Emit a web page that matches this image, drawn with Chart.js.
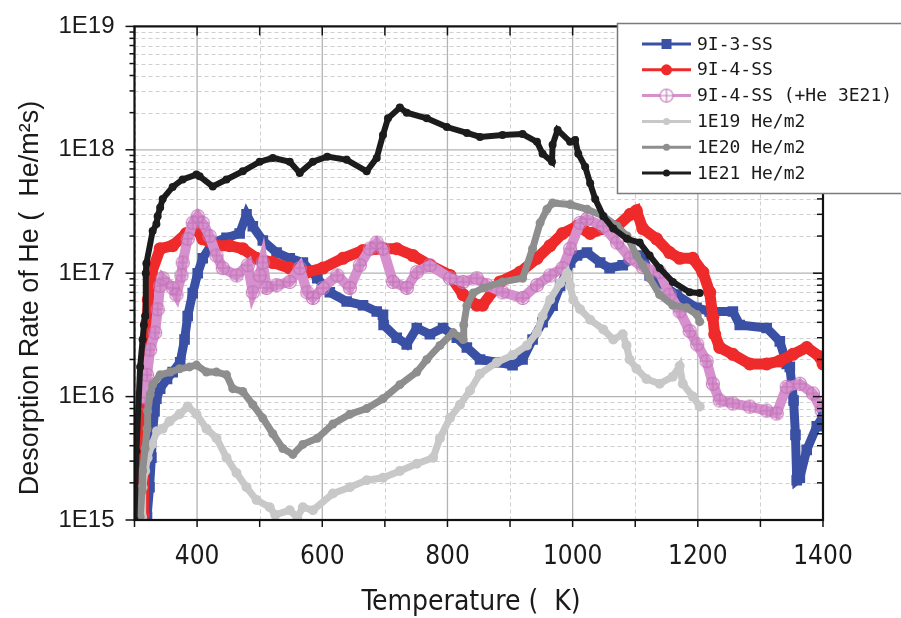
<!DOCTYPE html>
<html>
<head>
<meta charset="utf-8">
<script src="https://cdn.jsdelivr.net/npm/chart.js@4.4.1/dist/chart.umd.min.js"></script>
<style>
body { margin: 0; background: #fff; }
#c { display: block; }
</style>
</head>
<body>
<canvas id="c" width="901" height="618"></canvas>
<script>
// temperature (K) / desorption rate (He/m2s)

var blueT = [320,324,327,329,332,335,341,352,361,373,380,385,393,401,409,425,447,468,479,489,505,527,548,569,592,612,639,665,687,697,698,719,735,751,772,793,815,831,852,879,904,920,936,952,968,980,988,996,1007,1023,1044,1059,1080,1096,1112,1123,1166,1198,1219,1256,1267,1310,1331,1342,1347,1353,1356,1358,1363,1374,1390,1400];
var blueV = [1.06e15,1.84e15,3.2e15,5.25e15,7.6e15,9.6e15,1.16e16,1.39e16,1.58e16,1.9e16,2.9e16,4.5e16,6.9e16,1.0e17,1.32e17,1.77e17,1.94e17,2.1e17,3.0e17,2.4e17,1.84e17,1.47e17,1.32e17,1.22e17,9.1e16,7.0e16,5.9e16,5.5e16,4.9e16,4.6e16,3.8e16,3.0e16,2.65e16,3.6e16,3.2e16,3.6e16,3.0e16,2.5e16,2.0e16,1.9e16,1.8e16,2.0e16,2.9e16,4.0e16,5.45e16,7.9e16,9.6e16,1.22e17,1.39e17,1.47e17,1.22e17,1.1e17,1.16e17,1.32e17,1.39e17,9.6e16,6.7e16,5.25e16,4.9e16,4.9e16,3.8e16,3.6e16,2.8e16,1.84e16,1.74e16,9.3e15,4.9e15,2.1e15,2.2e15,3.7e15,5.75e15,6.9e15];

var redT = [314,317,320,322,327,341,361,383,399,409,431,452,473,495,521,548,576,601,633,665,697,719,745,772,804,825,847,856,884,916,943,964,984,1007,1028,1049,1071,1092,1102,1112,1134,1155,1171,1192,1208,1219,1224,1227,1235,1256,1283,1310,1331,1352,1374,1395,1400];
var redV = [1.1e15,1.2e16,4.0e16,6.1e16,1.0e17,1.58e17,1.67e17,2.1e17,2.3e17,1.9e17,1.67e17,1.67e17,1.58e17,1.32e17,1.22e17,1.1e17,1.02e17,1.1e17,1.32e17,1.53e17,1.58e17,1.58e17,1.39e17,1.16e17,9.6e16,6.7e16,5.5e16,5.5e16,8.5e16,1.02e17,1.32e17,1.67e17,2.1e17,2.4e17,2.1e17,2.3e17,2.4e17,3.0e17,3.2e17,2.3e17,1.9e17,1.47e17,1.32e17,1.32e17,1.02e17,7.0e16,4.4e16,3.2e16,2.5e16,2.2e16,1.84e16,1.84e16,1.94e16,2.2e16,2.5e16,2.1e16,1.84e16];

var pinkT = [317,320,325,333,337,341,345,361,367,375,377,385,393,401,409,420,431,441,463,481,489,500,505,511,527,548,564,576,585,601,624,644,660,676,687,697,713,735,751,772,804,825,847,863,888,920,943,964,984,996,1012,1023,1049,1071,1092,1112,1139,1155,1171,1187,1199,1214,1224,1235,1256,1283,1310,1326,1342,1363,1384,1398];
var pinkV = [8.8e15,1.5e16,2.4e16,3.3e16,5.1e16,7.9e16,9.1e16,7.6e16,6.7e16,9.6e16,1.22e17,1.9e17,2.56e17,2.9e17,2.56e17,2.0e17,1.39e17,1.1e17,9.6e16,1.16e17,7.0e16,9.6e16,1.22e17,7.6e16,8.0e16,8.5e16,1.1e17,7.0e16,6.3e16,7.6e16,9.6e16,7.6e16,1.16e17,1.58e17,1.77e17,1.58e17,8.5e16,7.6e16,1.02e17,1.16e17,9.1e16,8.5e16,9.1e16,8.0e16,7.0e16,6.3e16,8.0e16,9.6e16,1.1e17,1.58e17,2.56e17,2.75e17,2.4e17,1.77e17,1.32e17,1.12e17,1.02e17,6.7e16,4.9e16,3.4e16,2.65e16,1.94e16,1.27e16,9.3e15,8.8e15,8.3e15,7.7e15,7.3e15,1.2e16,1.27e16,1.06e16,7.7e15];

var e19T = [312,313,317,321,328,336,345,356,372,385,399,415,431,447,463,479,495,516,525,548,560,569,585,617,644,671,697,724,751,777,788,804,820,836,852,879,904,927,943,952,964,980,991,996,1001,1012,1028,1049,1065,1080,1086,1091,1102,1118,1139,1160,1171,1176,1192,1203];
var e19V = [1.06e15,1.84e15,2.5e15,3.2e15,4.1e15,5.25e15,5.5e15,6.3e15,7.2e15,8.3e15,7.2e15,5.5e15,4.6e15,3.2e15,2.4e15,1.84e15,1.45e15,1.27e15,1.1e15,1.2e15,1.05e15,1.27e15,1.2e15,1.64e15,1.84e15,2.1e15,2.2e15,2.5e15,2.86e15,3.2e15,4.6e15,6.7e15,8.6e15,1.12e16,1.53e16,1.9e16,2.17e16,2.6e16,3.3e16,4.5e16,6.1e16,8.3e16,1.0e17,7.9e16,6.1e16,5.1e16,4.2e16,3.5e16,2.9e16,3.2e16,2.6e16,2.0e16,1.68e16,1.39e16,1.27e16,1.45e16,1.77e16,1.27e16,1.0e16,8.3e15];

var e20T = [309,312,313,317,320,321,325,329,341,357,372,388,399,415,431,447,457,473,489,505,521,537,553,569,592,617,644,671,697,724,751,767,788,809,825,826,831,841,857,888,920,936,948,959,968,996,1023,1049,1071,1087,1102,1112,1123,1139,1160,1182,1199,1203];
var e20V = [1.06e15,1.74e15,2.5e15,3.8e15,5.5e15,7.6e15,1.04e16,1.25e16,1.5e16,1.58e16,1.68e16,1.74e16,1.8e16,1.58e16,1.58e16,1.5e16,1.16e16,1.1e16,8.6e15,6.7e15,5.0e15,3.8e15,3.4e15,4.1e15,4.6e15,6.0e15,7.2e15,8.0e15,9.6e15,1.25e16,1.58e16,2.0e16,2.6e16,3.3e16,2.9e16,3.8e16,5.45e16,6.9e16,7.6e16,8.5e16,9.1e16,1.58e17,2.56e17,3.3e17,3.7e17,3.6e17,3.3e17,2.9e17,2.4e17,2.0e17,1.39e17,1.16e17,9.1e16,6.7e16,5.5e16,5.25e16,4.6e16,4.05e16];

var e21T = [300,303,309,313,315,317,318,319,329,335,337,341,345,361,377,399,404,425,447,473,500,521,548,564,585,608,639,671,687,697,705,724,735,767,799,831,852,888,920,943,952,967,968,976,996,1004,1009,1020,1028,1036,1049,1065,1087,1107,1123,1139,1160,1187,1203];
var e21V = [1.0e15,3.6e15,1.74e16,2.9e16,3.8e16,4.5e16,1.0e17,1.2e17,2.2e17,2.5e17,2.9e17,3.4e17,4.0e17,5.0e17,5.75e17,6.3e17,6.1e17,5.05e17,5.75e17,6.7e17,8.0e17,8.6e17,8.0e17,6.5e17,8.0e17,8.8e17,8.3e17,6.7e17,8.6e17,1.32e18,1.8e18,2.2e18,2.0e18,1.8e18,1.53e18,1.37e18,1.27e18,1.32e18,1.34e18,1.16e18,9.3e17,8.0e17,1.1e18,1.45e18,1.16e18,1.2e18,9.3e17,7.3e17,5.35e17,4.0e17,2.9e17,2.3e17,1.9e17,1.77e17,1.39e17,1.1e17,8.5e16,7.0e16,6.9e16];

var yTicks = [1e15, 1e16, 1e17, 1e18, 1e19];
var xTicks = [400, 600, 800, 1000, 1200, 1400];
var xMinor = [300, 500, 700, 900, 1100, 1300];

function pts(t, v) {
  return t.map(function (x, i) { return {x: x, y: v[i]}; });
}

// crossed open circle like the origin marker
function crossCircle(r, color) {
  var c = document.createElement('canvas');
  var s = Math.ceil(r * 2 + 3);
  c.width = s; c.height = s;
  var g = c.getContext('2d');
  var m = s / 2;
  g.strokeStyle = color;
  g.lineWidth = 1.1;
  g.beginPath(); g.arc(m, m, r, 0, Math.PI * 2); g.stroke();
  g.beginPath();
  g.moveTo(m - r, m); g.lineTo(m + r, m);
  g.moveTo(m, m - r); g.lineTo(m, m + r);
  g.stroke();
  return c;
}
var pinkMark = crossCircle(6.5, '#c274b8');

function series(label, t, v, color, o) {
  return {
    label: label,
    data: pts(t, v),
    showLine: true,
    borderColor: o.line || color,
    borderWidth: o.w,
    backgroundColor: color,
    pointBackgroundColor: color,
    pointBorderColor: color,
    pointBorderWidth: 0,
    pointRadius: o.r,
    pointStyle: o.style || 'circle',
    tension: 0,
    order: o.order,
    clip: 0
  };
}

var minorY = [];
yTicks.slice(0, 4).forEach(function (d) {
  for (var k = 2; k <= 9; k++) minorY.push(d * k);
});

function ln(g, x1, y1, x2, y2) {
  g.beginPath(); g.moveTo(x1, y1); g.lineTo(x2, y2); g.stroke();
}

var frame = {
  id: 'frame',
  beforeDatasetsDraw: function (chart) {
    var a = chart.chartArea, xs = chart.scales.x, ys = chart.scales.y, g = chart.ctx;
    g.save();
    g.lineWidth = 1;
    g.strokeStyle = '#cfcfcf';
    g.setLineDash([4, 3]);
    minorY.forEach(function (v) {
      var p = Math.round(ys.getPixelForValue(v)) + 0.5;
      ln(g, a.left, p, a.right, p);
    });
    xMinor.forEach(function (v) {
      var p = Math.round(xs.getPixelForValue(v)) + 0.5;
      ln(g, p, a.top, p, a.bottom);
    });
    g.setLineDash([]);
    g.strokeStyle = '#b3b3b3';
    g.lineWidth = 1.3;
    yTicks.forEach(function (v) {
      var p = ys.getPixelForValue(v);
      ln(g, a.left, p, a.right, p);
    });
    xTicks.forEach(function (v) {
      var p = xs.getPixelForValue(v);
      ln(g, p, a.top, p, a.bottom);
    });
    g.restore();
  },
  afterDatasetsDraw: function (chart) {
    var a = chart.chartArea, xs = chart.scales.x, ys = chart.scales.y, g = chart.ctx;
    g.save();
    g.strokeStyle = '#111';
    g.lineWidth = 1.5;
    yTicks.forEach(function (v) {
      var p = ys.getPixelForValue(v);
      ln(g, a.left - 9, p, a.left, p);
      ln(g, a.right - 10, p, a.right, p);
    });
    minorY.forEach(function (v) {
      var p = ys.getPixelForValue(v);
      ln(g, a.left - 5, p, a.left, p);
      ln(g, a.right - 6, p, a.right, p);
    });
    xTicks.concat(xMinor).forEach(function (v) {
      var p = xs.getPixelForValue(v);
      ln(g, p, a.bottom, p, a.bottom + 7);
      ln(g, p, a.top, p, a.top + 9);
    });
    g.lineWidth = 2.2;
    g.strokeRect(a.left, a.top, a.right - a.left, a.bottom - a.top);
    g.restore();
  },
  afterDraw: function (chart) {
    var g = chart.ctx;
    g.save();
    // axis titles
    g.fillStyle = '#1a1a1a';
    g.textAlign = 'center';
    g.textBaseline = 'middle';
    g.font = '28px "Liberation Sans Narrow", "DejaVu Sans Condensed", "Liberation Sans", sans-serif';
    g.fillText('Temperature (  K)', 471, 603);
    g.translate(31, 298);
    g.rotate(-Math.PI / 2);
    g.font = '27px "Liberation Sans", Arial, sans-serif';
    g.fillText('Desorption Rate of He (  He/m\u00b2s)', 0, 0);
    g.restore();

    // legend box
    g.save();
    g.fillStyle = '#fff';
    g.fillRect(617, 23, 300, 171);
    g.strokeStyle = '#7a7a7a';
    g.lineWidth = 1.5;
    g.strokeRect(617.5, 23.5, 300, 170);
    g.font = '18px "DejaVu Sans Mono", monospace';
    g.textAlign = 'left';
    g.textBaseline = 'middle';
    chart.data.datasets.forEach(function (ds, i) {
      var y = 44 + i * 25.8;
      g.strokeStyle = ds.borderColor;
      g.lineWidth = 3;
      ln(g, 642, y, 691, y);
      g.fillStyle = ds.pointBackgroundColor;
      if (ds.pointStyle === 'rect') {
        g.fillRect(661.5, y - 5, 10, 10);
      } else if (ds.pointStyle === pinkMark) {
        g.fillStyle = '#fff';
        g.beginPath(); g.arc(666.5, y, 6.5, 0, Math.PI * 2); g.fill();
        g.drawImage(pinkMark, 666.5 - pinkMark.width / 2, y - pinkMark.height / 2);
      } else {
        g.beginPath(); g.arc(666.5, y, i === 1 ? 5.5 : 3.5, 0, Math.PI * 2); g.fill();
      }
      g.fillStyle = '#1a1a1a';
      g.fillText(ds.label, 697, y + 1);
    });
    g.restore();
  }
};

new Chart(document.getElementById('c'), {
  type: 'scatter',
  data: {
    datasets: [
      series('9I-3-SS', blueT, blueV, '#3a50a4', {r: 7.5, style: 'rect', w: 9, order: 5}),
      series('9I-4-SS', redT, redV, '#ee2a2a', {r: 6.5, w: 11, order: 4}),
      series('9I-4-SS (+He 3E21)', pinkT, pinkV, '#d38acb', {r: 6.5, style: pinkMark, line: '#d690cd', w: 10, order: 3}),
      series('1E19 He/m2', e19T, e19V, '#c8c8c8', {r: 5, w: 7, order: 2}),
      series('1E20 He/m2', e20T, e20V, '#8e8e8e', {r: 4.5, w: 7, order: 1}),
      series('1E21 He/m2', e21T, e21V, '#1c1c1c', {r: 4, w: 6, order: 0})
    ]
  },
  options: {
    responsive: false,
    animation: false,
    devicePixelRatio: 1,
    layout: { padding: {left: 0, right: 78, top: 19, bottom: 0} },
    plugins: { legend: {display: false}, tooltip: {enabled: false} },
    scales: {
      x: {
        type: 'linear',
        min: 300,
        max: 1400,
        afterFit: function (s) { s.height = 98; },
        afterBuildTicks: function (s) { s.ticks = xTicks.map(function (v) { return {value: v}; }); },
        grid: { display: false },
        border: { display: false },
        ticks: {
          autoSkip: false,
          maxRotation: 0,
          padding: 14,
          color: '#1a1a1a',
          font: { family: '"Liberation Sans Narrow", "DejaVu Sans Condensed", "Liberation Sans", sans-serif', size: 26 },
          callback: function (v) { return String(v); }
        }
      },
      y: {
        type: 'logarithmic',
        min: 1e15,
        max: 1e19,
        afterFit: function (s) { s.width = 134.5; },
        afterBuildTicks: function (s) { s.ticks = yTicks.map(function (v) { return {value: v}; }); },
        grid: { display: false },
        border: { display: false },
        ticks: {
          padding: 12,
          color: '#1a1a1a',
          font: { family: '"Liberation Sans", Arial, sans-serif', size: 24 },
          callback: function (v) { return '1E' + Math.round(Math.log10(v)); }
        }
      }
    }
  },
  plugins: [frame]
});
</script>
</body>
</html>
